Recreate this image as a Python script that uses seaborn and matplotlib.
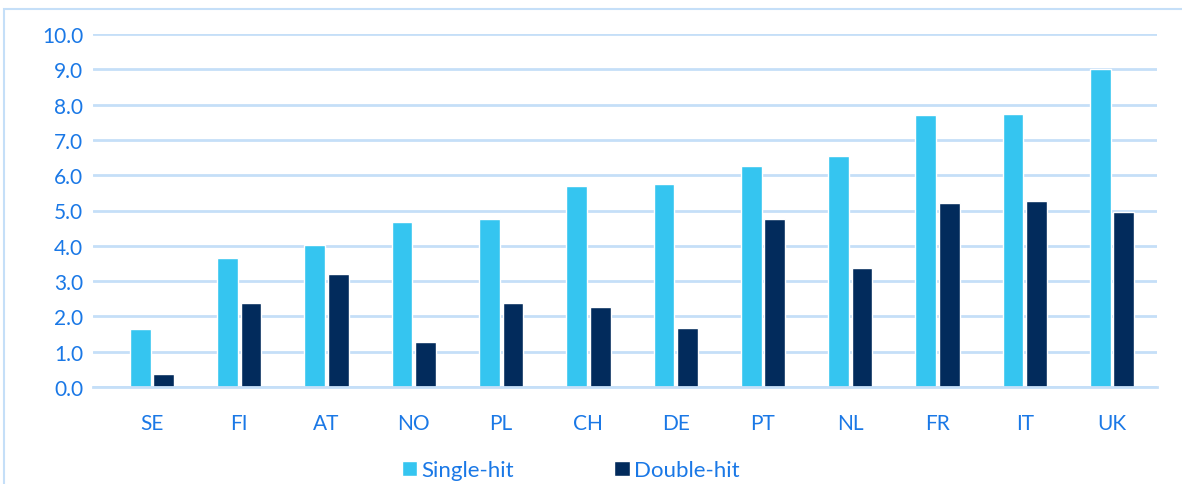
import matplotlib
matplotlib.use("Agg")
import matplotlib.pyplot as plt
import seaborn as sns
import pandas as pd
from matplotlib.patches import Rectangle

countries = ["SE", "FI", "AT", "NO", "PL", "CH", "DE", "PT", "NL", "FR", "IT", "UK"]
single_hit = [1.65, 3.65, 4.02, 4.67, 4.76, 5.68, 5.75, 6.26, 6.55, 7.70, 7.72, 9.0]
double_hit = [0.38, 2.38, 3.19, 1.27, 2.38, 2.27, 1.66, 4.76, 3.36, 5.21, 5.28, 4.96]
series = ["Single-hit", "Double-hit"]
yticks = [0, 1, 2, 3, 4, 5, 6, 7, 8, 9, 10]

df = pd.DataFrame({
    "country": countries * 2,
    "value": single_hit + double_hit,
    "series": [series[0]] * len(countries) + [series[1]] * len(countries),
})

sns.set_style("white")
plt.rcParams["font.family"] = ["Lato", "DejaVu Sans"]

TXT = "#1A78E6"
GRID = "#C5DFF8"
palette = {"Single-hit": "#35C5F0", "Double-hit": "#022B5C"}

fig = plt.figure(figsize=(11.82, 4.85), dpi=100)
ax = fig.add_axes([93 / 1182, 97 / 485, (1157 - 93) / 1182, (388 - 35) / 485])

sns.barplot(data=df, x="country", y="value", hue="series", order=countries,
            hue_order=series, palette=palette, width=0.54, gap=0.12,
            saturation=1, ax=ax, legend=True)

ax.set_ylim(0, 10)
ax.set_yticks(yticks)
ax.set_yticklabels([f"{v:.1f}" for v in yticks])
ax.set_xlim(-0.676, 11.515)
ax.yaxis.grid(True, color=GRID, linewidth=2)
ax.set_axisbelow(True)
for s in ["top", "right", "left"]:
    ax.spines[s].set_visible(False)
ax.spines["bottom"].set_color(GRID)
ax.spines["bottom"].set_linewidth(2)
ax.tick_params(axis="both", length=0, labelsize=15, colors=TXT)
ax.tick_params(axis="x", pad=19)
ax.tick_params(axis="y", pad=7)
ax.set_xlabel("")
ax.set_ylabel("")

handles, labels = ax.get_legend_handles_labels()
ax.legend_.remove()
fig.legend(handles, labels, loc="center", bbox_to_anchor=(0.483, 0.028), ncol=2,
           frameon=False, fontsize=16, labelcolor=TXT, handlelength=0.7,
           handleheight=0.7, handletextpad=0.2, columnspacing=4.5)

fig.patches.append(Rectangle((4 / 1182, -0.1), 1.2, 1.1 - 10 / 485,
                             transform=fig.transFigure, fill=False,
                             edgecolor=GRID, linewidth=1.5))

fig.savefig("out.png", dpi=100)
